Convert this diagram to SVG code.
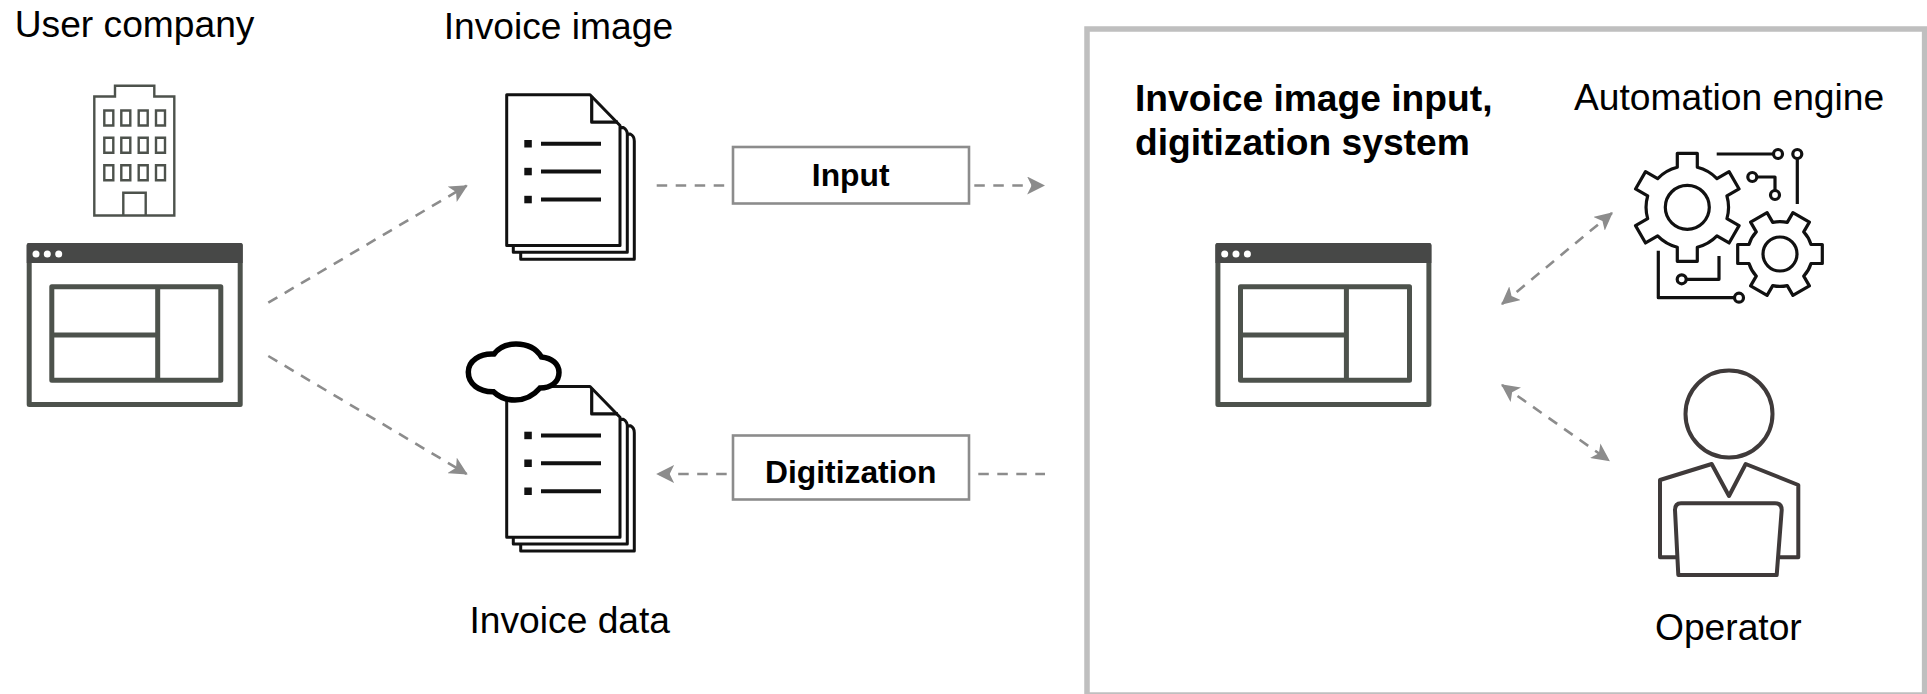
<svg xmlns="http://www.w3.org/2000/svg" width="1927" height="694" viewBox="0 0 1927 694">
<style>
text{font-family:"Liberation Sans",Arial,sans-serif;fill:#000}
.lbl{font-size:37.200px}
.ttl{font-size:37.200px;font-weight:700}
.tag{font-size:31.800px;font-weight:700;text-anchor:middle}
.flow{fill:none;stroke:#8c8c8c;stroke-width:2.600;stroke-dasharray:10.500 8.500}
.box{fill:#fff;stroke:#8c8c8c;stroke-width:2.600}
.win{fill:none;stroke:#4d524c;stroke-width:5;stroke-linejoin:round}
.bld{fill:none;stroke:#4d524c;stroke-width:2.400}
.page{fill:#fff;stroke:#111;stroke-width:3;stroke-linejoin:round}
.ink{fill:none;stroke:#111;stroke-width:3.200;stroke-linejoin:round}
.op{fill:none;stroke:#3f3a3a;stroke-width:4;stroke-linejoin:round}
</style>
<defs>
<marker id="ah" markerUnits="userSpaceOnUse" markerWidth="18" markerHeight="18" refX="15" refY="8" orient="auto-start-reverse" viewBox="0 0 16 16"><path d="M0 0L16 8L0 16L4 8Z" fill="#8c8c8c"/></marker>
<g id="window">
<rect x="29.200" y="245.500" width="211" height="159" class="win"/>
<path d="M26.700 245q0-2 2-2H240.700q2 0 2 2V263H26.700Z" fill="#474847"/>
<circle cx="36" cy="254" r="3.500" fill="#fff"/><circle cx="47.300" cy="254" r="3.500" fill="#fff"/><circle cx="58.700" cy="254" r="3.500" fill="#fff"/>
<rect x="51.800" y="286.800" width="169" height="93.400" class="win"/>
<path d="M157.700 286.800V380.200M51.800 335H157.700" class="win"/>
</g>
<g id="doc">
<path d="M520.700 140V259.300H634.300V141q0-5-4-7Z" class="page"/>
<path d="M513.300 130V252.300H627.300V134q0-4-4-6.500Z" class="page"/>
<path d="M506.700 94.800H590L620 125.500V245.500H506.700Z" class="page"/>
<path d="M591.700 96.500V122.200H618" class="ink"/>
<path d="M541 143.800H601M541 171.500H601M541 199.500H601" fill="none" stroke="#111" stroke-width="4"/>
<rect x="524.300" y="140" width="7.500" height="7.500" fill="#111"/><rect x="524.300" y="167.800" width="7.500" height="7.500" fill="#111"/><rect x="524.300" y="195.800" width="7.500" height="7.500" fill="#111"/>
</g>
</defs>
<g id="connectors">
<path d="M268.300 302.700L466.700 185.700" class="flow" marker-end="url(#ah)"/>
<path d="M268.300 356L466.700 474" class="flow" marker-end="url(#ah)"/>
<path d="M656.700 185.500H731" class="flow"/>
<path d="M974.300 185.500H1044" class="flow" marker-end="url(#ah)"/>
<path d="M726.700 474H657.300" class="flow" marker-end="url(#ah)"/>
<path d="M978.300 474H1045" class="flow"/>
<path d="M1502 304L1612 213" class="flow" marker-start="url(#ah)" marker-end="url(#ah)"/>
<path d="M1502 385L1609 460.500" class="flow" marker-start="url(#ah)" marker-end="url(#ah)"/>
</g>
<g id="system-frame"><rect x="1087" y="29" width="837.600" height="666" fill="none" stroke="#bfbfbf" stroke-width="5.500"/></g>
<g id="user-company"><text x="14.700" y="37" class="lbl">User company</text>
<path d="M94.300 96.500H115V85.800H154.300V96.500H174.300V215.500H94.300Z" class="bld"/>
<path d="M123.300 215.500V192.800H145.700V215.500" class="bld"/>
<path d="M104.300 110.500h9v15h-9zM121.300 110.500h9v15h-9zM138.700 110.500h9v15h-9zM156 110.500h9v15h-9zM104.300 137.800h9v15h-9zM121.300 137.800h9v15h-9zM138.700 137.800h9v15h-9zM156 137.800h9v15h-9zM104.300 165.200h9v15h-9zM121.300 165.200h9v15h-9zM138.700 165.200h9v15h-9zM156 165.200h9v15h-9z" class="bld"/>
</g>
<g id="user-window"><use href="#window"/></g>
<g id="invoice-image"><text x="443.700" y="39" class="lbl">Invoice image</text><use href="#doc"/></g>
<g id="invoice-data"><use href="#doc" y="291.700"/>
<path d="M494 354C500 346 508 344 516 344C526 344 536 348 541.500 357C552 358 559 364 559 372.500C559 382 551 388 540 388C534 395 525 400 515 400C506 400 499 397 493.500 391.700C479 392 468.300 384 468.300 372C468.300 361 480 353 494 354Z" fill="#fff" stroke="#000" stroke-width="5.500"/>
<text x="469.500" y="632.500" class="lbl">Invoice data</text></g>
<g id="input"><rect x="733" y="147" width="236" height="56.500" class="box"/><text x="850.700" y="186" class="tag">Input</text></g>
<g id="digitization"><rect x="733" y="435.500" width="236" height="64" class="box"/><text x="850.700" y="483" class="tag">Digitization</text></g>
<g id="system-title"><text class="ttl" x="1135" y="110.500">Invoice image input,</text><text class="ttl" x="1135" y="155">digitization system</text></g>
<g id="system-window"><use href="#window" x="1188.700"/></g>
<g id="automation-engine"><text x="1574" y="110" class="lbl">Automation engine</text>
<g transform="translate(1687.3 207.3)"><path d="M-10-40V-54H10V-40A41 41 0 0 1 29.640-28.660L41.770-35.660L51.770-18.340L39.640-11.340A41 41 0 0 1 39.640 11.340L51.770 18.340L41.770 35.660L29.640 28.660A41 41 0 0 1 10 40V54H-10V40A41 41 0 0 1-29.640 28.660L-41.770 35.660L-51.770 18.340L-39.640 11.340A41 41 0 0 1-39.640-11.340L-51.770-18.340L-41.770-35.660L-29.640-28.660A41 41 0 0 1-10-40Z" class="ink"/><circle r="22" class="ink"/></g>
<g transform="translate(1780 254)"><path d="M31-9.500H42.300V9.500H31A32 32 0 0 1 23.730 22.100L29.380 31.880L12.920 41.380L7.270 31.600A32 32 0 0 1-7.270 31.600L-12.920 41.380L-29.380 31.880L-23.730 22.100A32 32 0 0 1-31 9.500H-42.300V-9.500H-31A32 32 0 0 1-23.730-22.100L-29.380-31.880L-12.920-41.380L-7.270-31.600A32 32 0 0 1 7.270-31.600L12.920-41.380L29.380-31.880L23.730-22.100A32 32 0 0 1 31-9.500Z" class="ink"/><circle r="17" class="ink"/></g>
<path d="M1716.700 154H1773.500M1797.300 158.500V204M1757 177H1775V190.500M1658.300 250.700V297.700H1734.500M1719 256V279.300H1686.200" class="ink"/>
<circle cx="1778" cy="154" r="4.500" class="ink"/><circle cx="1797.300" cy="154" r="4.500" class="ink"/><circle cx="1752.300" cy="177" r="4.500" class="ink"/><circle cx="1775" cy="195" r="4.500" class="ink"/><circle cx="1739" cy="297.700" r="4.500" class="ink"/><circle cx="1681.700" cy="279.300" r="4.500" class="ink"/>
</g>
<g id="operator"><circle cx="1729" cy="414" r="43.500" class="op"/>
<path d="M1676 557.300H1660V480L1711.700 464L1729 496L1745.700 464L1798.300 485V557.300H1780" class="op"/>
<path d="M1678.300 575L1675 510Q1675 503.300 1681 503.300H1775Q1781.700 503.300 1781.700 510L1776.700 575Z" class="op"/>
<text x="1655" y="639.500" class="lbl">Operator</text></g>
</svg>
